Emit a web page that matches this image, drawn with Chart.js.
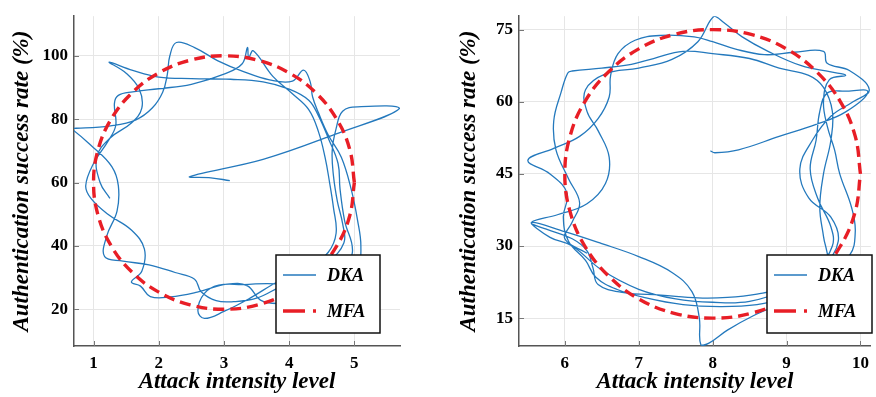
<!DOCTYPE html>
<html>
<head>
<meta charset="utf-8">
<script src="https://cdn.jsdelivr.net/npm/chart.js@4.4.1/dist/chart.umd.min.js"></script>
<style>
  html, body { margin: 0; padding: 0; background: #fff; }
  #wrap { position: relative; width: 876px; height: 397px; }
  canvas { position: absolute; top: 0; }
</style>
</head>
<body>
<div id="wrap">
  <canvas id="left" width="440" height="397" style="left:0"></canvas>
  <canvas id="right" width="436" height="397" style="left:440px"></canvas>
</div>
<script>
// tick labels
var leftXTicks = [1, 2, 3, 4, 5];
var leftYTicks = [20, 40, 60, 80, 100];
var rightXTicks = [6, 7, 8, 9, 10];
var rightYTicks = [15, 30, 45, 60, 75];

// left panel: DKA trace
var dkaLeftX = [3.09, 2.80, 2.48, 3.60, 4.70, 5.69, 5.05, 4.82, 4.72, 4.66, 4.68, 4.74, 4.82, 4.84, 4.60, 4.20, 3.85, 3.50, 3.15, 2.88,
  2.65, 2.55, 2.25, 1.85, 1.45, 1.17, 1.20, 1.36, 1.38, 1.28, 1.00, 0.55, 0.50, 0.80, 1.26, 1.65, 1.90, 2.06, 2.13, 2.17,
  2.27, 2.55, 2.90, 3.30, 3.70, 4.05, 4.22, 4.32, 4.36, 4.45, 4.60, 4.80, 4.95, 5.05, 5.10, 5.05, 4.80, 4.30, 3.80, 3.30,
  2.92, 2.70, 2.60, 2.70, 3.00, 3.40, 3.85, 4.30, 4.60, 4.72, 4.68, 4.62, 4.55, 4.45, 4.30, 4.05, 3.75, 3.45, 3.38, 3.36,
  3.28, 3.00, 2.50, 2.00, 1.60, 1.38, 1.32, 1.34, 1.22, 1.00, 0.88, 0.96, 1.22, 1.58, 1.78, 1.74, 1.58, 1.72, 1.87, 2.18,
  2.59, 3.05, 3.36, 3.56, 3.85, 4.30, 4.75, 4.97, 4.85, 4.78, 4.75, 4.60, 4.45, 4.30, 4.00, 3.60, 3.10, 2.50, 2.00, 1.60,
  1.24, 1.50, 1.70, 1.74, 1.58, 1.25, 1.05, 1.10, 1.25];
var dkaLeftY = [60.6, 61.5, 61.9, 67.3, 75.2, 83.3, 83.9, 82.5, 77, 70, 62, 54, 47, 41, 35, 30.5, 27, 23.5, 22.4, 22.7,
  25.5, 29.5, 31.6, 34.0, 35.2, 36.6, 43, 51, 59, 65, 71, 78.5, 77.3, 77.2, 77.9, 79.8, 83.5, 88.5, 94, 100,
  104.2, 102.6, 98.5, 95.0, 92.4, 92.0, 95.5, 92, 87, 82, 75, 68, 58, 48, 40, 33, 28, 26, 28, 27.8,
  27.6, 25, 19.5, 17.1, 19.3, 23.5, 29, 33, 38, 44, 52, 60, 68, 76, 83, 88, 93.5, 101.6, 99.5, 102.6,
  97.5, 94.2, 91, 89.6, 88.6, 87.5, 85, 78, 73, 66, 59, 55, 50, 45, 39, 32, 28.6, 27.3, 24, 23.9,
  25.4, 27.9, 27.4, 22.9, 21.8, 22.5, 28, 38, 48, 58, 66, 74, 81, 86, 89.5, 91.8, 92.6, 92.8, 93.3, 95.4,
  98, 94.5, 89.5, 83.5, 78.8, 74, 68, 60, 55];

// left panel: MFA reference ring
var mfaLeftX = [5, 4.93, 4.73, 4.41, 4, 3.52, 3, 2.48, 2, 1.59, 1.27, 1.07, 1, 1.07, 1.27, 1.59, 2, 2.48, 3, 3.52, 4, 4.41, 4.73, 4.93, 5];
var mfaLeftY = [60, 70.4, 80, 88.3, 94.6, 98.6, 100, 98.6, 94.6, 88.3, 80, 70.4, 60, 49.6, 40, 31.7, 25.4, 21.4, 20, 21.4, 25.4, 31.7, 40, 49.6, 60];

// right panel: DKA trace
var dkaRightX = [7.97, 8.03, 8.35, 8.90, 9.40, 9.80, 10.10, 9.80, 9.55, 9.45, 9.40, 9.32, 9.42, 9.60, 9.62, 9.40, 9.00, 8.60, 8.20, 7.80,
  7.30, 6.80, 6.45, 6.38, 6.30, 6.10, 5.75, 5.55, 5.90, 6.30, 6.55, 6.60, 6.45, 6.30, 6.28, 6.55, 7.00, 7.45, 7.80, 8.02,
  8.15, 8.40, 8.75, 9.20, 9.60, 9.80, 9.58, 9.50, 9.55, 9.65, 9.72, 9.88, 9.93, 9.85, 9.40, 9.00, 8.60, 8.10, 7.60, 7.10,
  6.70, 6.42, 6.28, 6.05, 5.98, 6.03, 5.80, 5.50, 5.85, 6.20, 6.45, 6.60, 6.62, 6.72, 6.95, 7.30, 7.75, 8.00, 8.30, 8.70,
  9.10, 9.50, 9.55, 9.85, 10.12, 9.90, 9.60, 9.35, 9.18, 9.30, 9.60, 9.70, 9.50, 9.00, 8.50, 8.00, 7.50, 7.00, 6.50, 6.10,
  5.80, 5.55, 6.00, 6.50, 7.00, 7.45, 7.72, 7.82, 7.84, 7.95, 8.20, 8.55, 9.00, 9.30, 9.55, 9.50, 9.45, 9.50, 9.60, 9.62,
  9.50, 9.30, 8.90, 8.50, 8.00, 7.60, 7.20, 6.90, 6.50, 6.10, 6.04, 5.95, 5.85, 5.88, 6.05, 6.20, 6.10, 6.00, 6.30];
var dkaRightY = [49.8, 49.4, 50.0, 52.8, 55.3, 57.9, 62.1, 62.2, 61.8, 58, 52, 46, 40, 34, 30, 25, 21.5, 20, 19.3, 19.2,
  19.8, 20.3, 22, 25.5, 29, 31.5, 33.5, 34.9, 36.5, 38.8, 43, 48.5, 54, 58, 62.5, 65.8, 67, 68.8, 72.5, 77.8,
  76.5, 73.5, 70.5, 67.5, 66.2, 65.5, 64.6, 60, 55, 50, 45, 38, 33, 28, 22, 19.3, 17.8, 17.4, 17.8, 19.2,
  21, 23.5, 27, 31, 36, 41, 45, 47.8, 50.3, 52.8, 56.5, 61, 65.5, 70, 72.8, 73.8, 73.5, 72.5, 71, 69.8,
  70.3, 70.5, 68, 66.5, 62.5, 60, 57, 52, 46, 40, 36, 31, 26, 21, 18.5, 18.3, 19, 21, 25, 30,
  31.8, 34.9, 33, 30.5, 27.8, 24.5, 20.5, 15, 9.5, 9.8, 12.5, 15.5, 18.5, 21, 26, 32, 38, 45, 52, 58,
  63, 65.5, 67, 69, 70, 70.5, 69, 67.8, 67, 66.4, 66, 62, 56, 50, 44, 39, 35, 31.5, 28.5];

// right panel: MFA reference ring
var mfaRightX = [10, 9.93, 9.73, 9.41, 9, 8.52, 8, 7.48, 7, 6.59, 6.27, 6.07, 6, 6.07, 6.27, 6.59, 7, 7.48, 8, 8.52, 9, 9.41, 9.73, 9.93, 10];
var mfaRightY = [45, 52.8, 60, 66.2, 71, 74, 75, 74, 71, 66.2, 60, 52.8, 45, 37.2, 30, 23.8, 19, 16, 15, 16, 19, 23.8, 30, 37.2, 45];

var BLUE = 'rgb(36,121,189)';
var RED = 'rgb(232,30,38)';
var SERIF = '"Liberation Serif", "Times New Roman", serif';

function pts(xs, ys) {
  return xs.map(function (x, i) { return { x: x, y: ys[i] }; });
}

// small inward tick marks on the two axis lines
var innerTicks = {
  id: 'innerTicks',
  afterDatasetsDraw: function (chart) {
    var c = chart.ctx, a = chart.chartArea;
    var sx = chart.scales.x, sy = chart.scales.y;
    c.save();
    c.strokeStyle = '#777';
    c.lineWidth = 1;
    c.beginPath();
    sx.ticks.forEach(function (t) {
      var px = Math.round(sx.getPixelForValue(t.value)) + 0.5;
      c.moveTo(px, a.bottom);
      c.lineTo(px, a.bottom - 5);
    });
    sy.ticks.forEach(function (t) {
      var py = Math.round(sy.getPixelForValue(t.value)) + 0.5;
      c.moveTo(a.left, py);
      c.lineTo(a.left + 5, py);
    });
    c.stroke();
    c.restore();
  }
};

// framed legend drawn inside the plot, like the original figure
var boxLegend = {
  id: 'boxLegend',
  afterDraw: function (chart, args, o) {
    var c = chart.ctx;
    c.save();
    c.fillStyle = '#fff';
    c.fillRect(o.x, o.y, o.w, o.h);
    c.strokeStyle = '#111';
    c.lineWidth = 1.5;
    c.strokeRect(o.x, o.y, o.w, o.h);
    chart.data.datasets.forEach(function (ds, i) {
      var y = o.y + 20 + i * 36;
      c.strokeStyle = ds.borderColor;
      c.lineWidth = ds.borderWidth;
      c.setLineDash(ds.legendDash || []);
      c.beginPath();
      c.moveTo(o.x + 7, y);
      c.lineTo(o.x + 40, y);
      c.stroke();
      c.setLineDash([]);
      c.fillStyle = '#000';
      c.font = 'italic bold 18px ' + SERIF;
      c.textBaseline = 'middle';
      c.fillText(ds.label, o.x + 51, y + 1);
    });
    c.restore();
  }
};

function makePanel(id, d) {
  new Chart(document.getElementById(id), {
    type: 'scatter',
    data: {
      datasets: [{
        label: 'DKA',
        data: pts(d.dkaX, d.dkaY),
        showLine: true,
        borderColor: BLUE,
        borderWidth: 1.3,
        pointRadius: 0,
        tension: 0.4,
        order: 2
      }, {
        label: 'MFA',
        data: pts(d.mfaX, d.mfaY),
        showLine: true,
        borderColor: RED,
        borderWidth: 3.4,
        borderDash: [11, 6],
        legendDash: [22, 8],
        pointRadius: 0,
        tension: 0.4,
        order: 1
      }]
    },
    options: {
      responsive: false,
      animation: false,
      layout: { padding: { left: 0, right: d.padRight, top: 5, bottom: 0 } },
      plugins: {
        legend: { display: false },
        tooltip: { enabled: false },
        boxLegend: d.legend
      },
      scales: {
        x: {
          type: 'linear',
          min: d.xMin,
          max: d.xMax,
          afterBuildTicks: function (s) { s.ticks = d.xTicks.map(function (v) { return { value: v }; }); },
          afterFit: function (s) { s.height = 51; },
          grid: { color: '#e6e6e6', drawTicks: false },
          border: { color: '#555', width: 1.5 },
          ticks: { padding: 7, color: '#000', font: { family: SERIF, size: 17, weight: 'bold' } },
          title: {
            display: true,
            text: 'Attack intensity level',
            color: '#000',
            padding: { top: 0, bottom: 1 },
            font: { family: SERIF, size: 23, weight: 'bold', style: 'italic' }
          }
        },
        y: {
          type: 'linear',
          min: d.yMin,
          max: d.yMax,
          afterBuildTicks: function (s) { s.ticks = d.yTicks.map(function (v) { return { value: v }; }); },
          afterFit: function (s) { s.width = d.yWidth; },
          grid: { color: '#e6e6e6', drawTicks: false },
          border: { color: '#555', width: 1.5 },
          ticks: { padding: 6, color: '#000', font: { family: SERIF, size: 17, weight: 'bold' } },
          title: {
            display: true,
            text: 'Authentication success rate (%)',
            color: '#000',
            padding: { top: d.yTitlePad, bottom: 0 },
            font: { family: SERIF, size: 23, weight: 'bold', style: 'italic' }
          }
        }
      }
    },
    plugins: [innerTicks, boxLegend]
  });
}

makePanel('left', {
  dkaX: dkaLeftX, dkaY: dkaLeftY, mfaX: mfaLeftX, mfaY: mfaLeftY,
  xTicks: leftXTicks, yTicks: leftYTicks,
  xMin: 0.7, xMax: 5.7, yMin: 8.4, yMax: 112.5,
  padRight: 40, yWidth: 74, yTitlePad: 8,
  legend: { x: 276, y: 255, w: 104, h: 78 }
});

makePanel('right', {
  dkaX: dkaRightX, dkaY: dkaRightY, mfaX: mfaRightX, mfaY: mfaRightY,
  xTicks: rightXTicks, yTicks: rightYTicks,
  xMin: 5.38, xMax: 10.14, yMin: 9.2, yMax: 77.8,
  padRight: 2, yWidth: 79, yTitlePad: 15,
  legend: { x: 327, y: 255, w: 105, h: 78 }
});
</script>
</body>
</html>
